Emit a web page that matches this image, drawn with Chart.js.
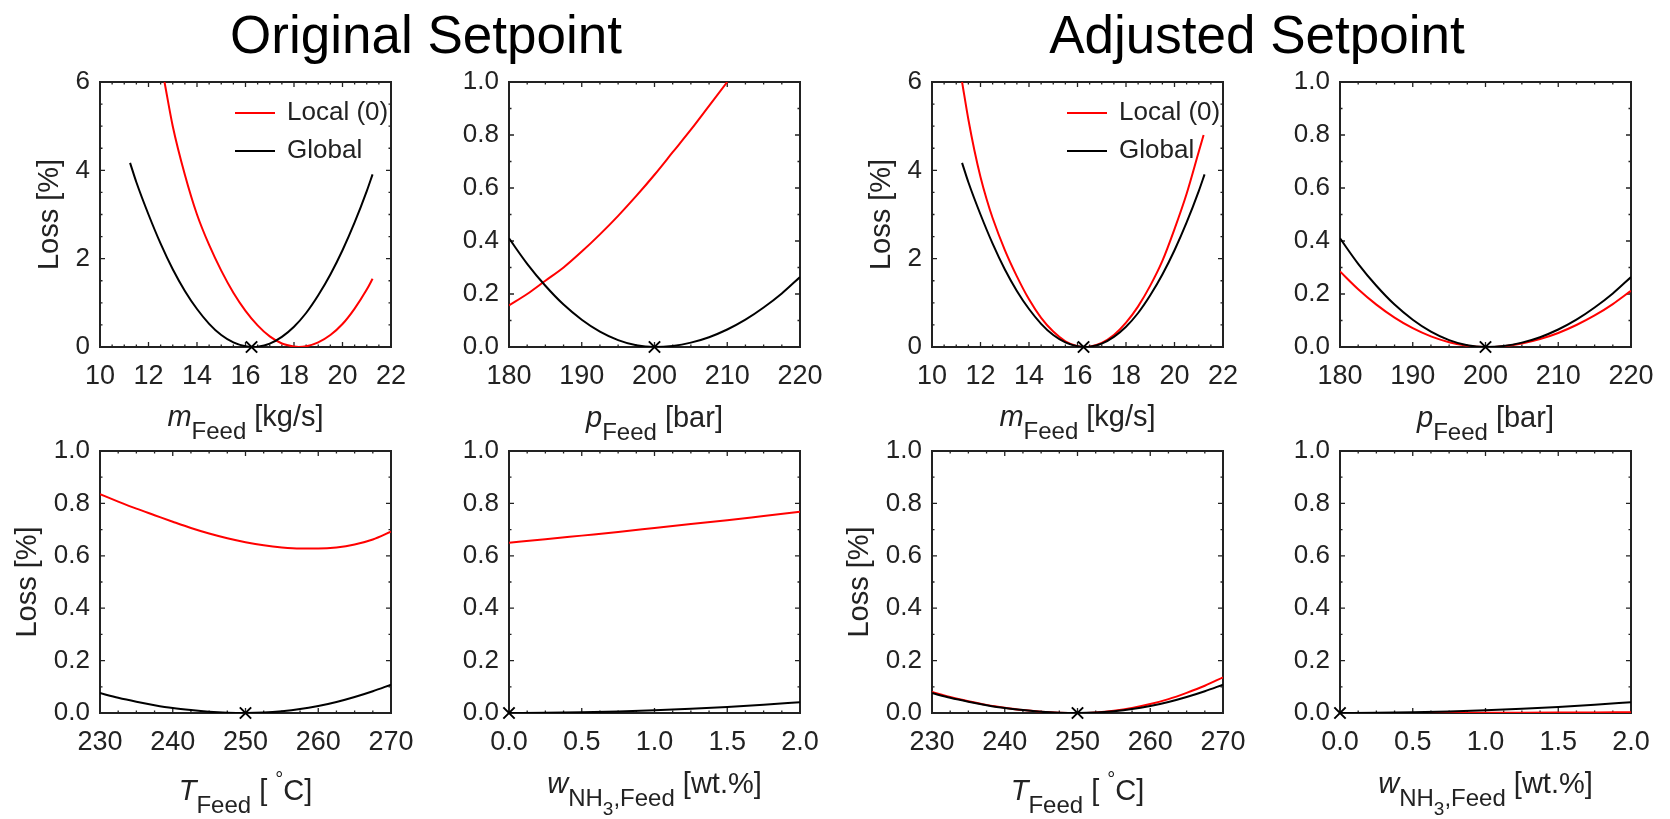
<!DOCTYPE html>
<html>
<head>
<meta charset="utf-8">
<script src="https://cdn.jsdelivr.net/npm/chart.js@4.4.1/dist/chart.umd.min.js"></script>
<style>
  body { margin: 0; width: 1670px; height: 819px; background: #fff; position: relative; overflow: hidden;
         font-family: "Liberation Sans", Arial, sans-serif; }
  .title { position: absolute; top: 8px; font-size: 53px; line-height: 53px; color: #000;
           white-space: nowrap; transform: translateX(-50%); }
  canvas { position: absolute; }
</style>
</head>
<body>
<div class="title" style="left:426px">Original Setpoint</div>
<div class="title" style="left:1257px">Adjusted Setpoint</div>
<script>
// ---- data ----
// feed mass flow [kg/s]
const mGlobalX = [11.24, 11.5, 12, 12.5, 13, 13.5, 14, 14.5, 15, 15.5, 16, 16.3, 16.5, 17, 17.5, 18, 18.5, 19, 19.5, 20, 20.5, 21, 21.24];
const mGlobalY = [4.17, 3.73, 3.0, 2.34, 1.76, 1.27, 0.86, 0.525, 0.27, 0.104, 0.015, 0, 0.006, 0.078, 0.23, 0.46, 0.77, 1.17, 1.64, 2.19, 2.82, 3.53, 3.91];
const mLocalOrigX = [12.66, 13, 13.5, 14, 14.5, 15, 15.5, 16, 16.5, 17, 17.5, 18, 18.2, 18.5, 19, 19.5, 20, 20.5, 21, 21.24];
const mLocalOrigY = [6.0, 5.0, 3.9, 3.0, 2.31, 1.73, 1.23, 0.82, 0.49, 0.24, 0.08, 0.01, 0, 0.015, 0.105, 0.27, 0.52, 0.87, 1.30, 1.545];
const mLocalAdjX = [11.24, 11.5, 11.75, 12, 12.25, 12.5, 13, 13.5, 14, 14.5, 15, 15.5, 16, 16.3, 16.5, 17, 17.5, 18, 18.5, 19, 19.5, 20, 20.5, 21, 21.2];
const mLocalAdjY = [6.0, 5.15, 4.45, 3.85, 3.35, 2.92, 2.2, 1.6, 1.08, 0.66, 0.35, 0.13, 0.018, 0, 0.008, 0.093, 0.27, 0.55, 0.92, 1.39, 1.95, 2.67, 3.47, 4.42, 4.8];

// feed pressure [bar]
const pX = [180, 182.5, 185, 187.5, 190, 192.5, 195, 197.5, 200, 202.5, 205, 207.5, 210, 212.5, 215, 217.5, 220];
const pGlobalY = [0.41, 0.314, 0.231, 0.16, 0.103, 0.058, 0.026, 0.0064, 0, 0.0041, 0.0165, 0.037, 0.066, 0.103, 0.149, 0.202, 0.264];
const pLocalOrigX = [180, 182.5, 185, 187.5, 190, 192.5, 195, 197.5, 200, 202.5, 205, 207.5, 210];
const pLocalOrigY = [0.157, 0.2, 0.25, 0.30, 0.36, 0.425, 0.495, 0.57, 0.65, 0.735, 0.82, 0.91, 1.0];
const pLocalAdjY = [0.285, 0.218, 0.16, 0.111, 0.071, 0.040, 0.018, 0.0045, 0, 0.0033, 0.0133, 0.030, 0.053, 0.083, 0.119, 0.162, 0.212];

// feed temperature [°C]
const tX = [230, 232.5, 235, 237.5, 240, 242.5, 245, 247.5, 250, 252.5, 255, 257.5, 260, 262.5, 265, 267.5, 270];
const tGlobalY = [0.076, 0.058, 0.043, 0.030, 0.019, 0.011, 0.0048, 0.0012, 0, 0.0017, 0.0068, 0.015, 0.027, 0.042, 0.061, 0.083, 0.108];
const tLocalOrigY = [0.835, 0.807, 0.78, 0.755, 0.73, 0.706, 0.685, 0.667, 0.652, 0.64, 0.632, 0.628, 0.628, 0.632, 0.643, 0.662, 0.692];
const tLocalAdjY = [0.08, 0.061, 0.045, 0.031, 0.02, 0.011, 0.005, 0.0013, 0, 0.0021, 0.0085, 0.019, 0.034, 0.053, 0.077, 0.104, 0.136];

// NH3 mass fraction in feed [wt.%]
const wX = [0, 0.25, 0.5, 0.75, 1.0, 1.25, 1.5, 1.75, 2.0];
const wGlobalY = [0, 0.0006, 0.0026, 0.0058, 0.0103, 0.016, 0.023, 0.0314, 0.041];
const wLocalOrigY = [0.65, 0.663, 0.677, 0.691, 0.706, 0.721, 0.736, 0.752, 0.768];
const wLocalAdjY = [0, 0.0001, 0.0002, 0.0005, 0.0008, 0.0012, 0.0017, 0.0023, 0.003];

// nominal operating points (marked with x)
const mOpt = 16.25, pOpt = 200, tOpt = 250, wOpt = 0;

const seriesLabels = ['Local (0)', 'Global'];

// ---- look ----
const FONT = '"Liberation Sans", Arial, sans-serif';
const INK = '#222';
const L = 100, T = 20, R = 30, B = 110, PW = 291;

const pts = (xs, ys) => xs.map((x, i) => ({ x: x, y: ys[i] }));

// MATLAB-like box: inward major/minor ticks on all sides
const boxPlugin = {
    id: 'box',
    beforeDatasetsDraw(chart, args, o) {
        const { ctx, chartArea: a, scales: { x, y } } = chart;
        ctx.save();
        ctx.strokeStyle = INK;
        ctx.lineWidth = 1.3;
        const isMajor = (v, step) => Math.abs(v / step - Math.round(v / step)) < 1e-6;
        ctx.beginPath();
        for (let v = x.min; v <= x.max + 1e-9; v += o.xMinor) {
            const px = x.getPixelForValue(v);
            const len = isMajor(v, o.xMajor) ? 5 : 2.5;
            ctx.moveTo(px, a.bottom); ctx.lineTo(px, a.bottom - len);
            ctx.moveTo(px, a.top); ctx.lineTo(px, a.top + len);
        }
        for (let v = y.min; v <= y.max + 1e-9; v += o.yMinor) {
            const py = y.getPixelForValue(v);
            const len = isMajor(v, o.yMajor) ? 5 : 2.5;
            ctx.moveTo(a.left, py); ctx.lineTo(a.left + len, py);
            ctx.moveTo(a.right, py); ctx.lineTo(a.right - len, py);
        }
        ctx.stroke();
        ctx.lineWidth = 2;
        ctx.strokeRect(a.left, a.top, a.right - a.left, a.bottom - a.top);
        ctx.restore();
    },
    afterDraw(chart, args, o) {
        const { ctx, chartArea: a } = chart;
        ctx.save();
        ctx.fillStyle = INK;
        // x title with sub/superscripts
        const sizes = { 0: 29, 1: 24, 2: 19, '-1': 20 };
        const shifts = { 0: 0, 1: 13, 2: 22, '-1': -14 };
        const fontOf = p => (p.i ? 'italic ' : '') + sizes[p.s || 0] + 'px ' + FONT;
        let total = 0;
        o.xTitle.forEach(p => { ctx.font = fontOf(p); total += ctx.measureText(p.t).width; });
        let cx = (a.left + a.right) / 2 - total / 2;
        const base = a.bottom + o.xTitleOff;
        ctx.textBaseline = 'alphabetic';
        ctx.textAlign = 'left';
        o.xTitle.forEach(p => {
            ctx.font = fontOf(p);
            ctx.fillText(p.t, cx, base + shifts[p.s || 0]);
            cx += ctx.measureText(p.t).width;
        });
        // y title
        if (o.yTitle) {
            ctx.save();
            ctx.translate(a.left - o.yTitleOff, (a.top + a.bottom) / 2);
            ctx.rotate(-Math.PI / 2);
            ctx.font = '29px ' + FONT;
            ctx.textAlign = 'center';
            ctx.textBaseline = 'middle';
            ctx.fillText(o.yTitle, 0, 0);
            ctx.restore();
        }
        // legend
        if (o.legend) {
            ctx.font = '26px ' + FONT;
            ctx.textBaseline = 'middle';
            ctx.textAlign = 'left';
            chart.data.datasets.filter(d => d.label).forEach((d, i) => {
                const ly = a.top + 31 + i * 38;
                ctx.strokeStyle = d.borderColor;
                ctx.lineWidth = 2;
                ctx.beginPath();
                ctx.moveTo(a.left + 135, ly); ctx.lineTo(a.left + 175, ly);
                ctx.stroke();
                ctx.fillStyle = INK;
                ctx.fillText(d.label, a.left + 187, ly);
            });
        }
        ctx.restore();
    }
};

const panels = [
    { left: 100, top: 82, h: 265, xr: [10, 22, 2, 0.5, 0], yr: [0, 6, 2, 0.5, 0], dec: 0,
      local: pts(mLocalOrigX, mLocalOrigY), global: pts(mGlobalX, mGlobalY), opt: mOpt,
      xTitle: [{ t: 'm', i: true }, { t: 'Feed', s: 1 }, { t: ' [kg/s]' }], xTitleOff: 79, yTitle: 'Loss [%]', yTitleOff: 50, legend: true },
    { left: 509, top: 82, h: 265, xr: [180, 220, 10, 2.5, 0], yr: [0, 1, 0.2, 0.1, 1],
      local: pts(pLocalOrigX, pLocalOrigY), global: pts(pX, pGlobalY), opt: pOpt,
      xTitle: [{ t: 'p', i: true }, { t: 'Feed', s: 1 }, { t: ' [bar]' }], xTitleOff: 80 },
    { left: 932, top: 82, h: 265, xr: [10, 22, 2, 0.5, 0], yr: [0, 6, 2, 0.5, 0],
      local: pts(mLocalAdjX, mLocalAdjY), global: pts(mGlobalX, mGlobalY), opt: mOpt,
      xTitle: [{ t: 'm', i: true }, { t: 'Feed', s: 1 }, { t: ' [kg/s]' }], xTitleOff: 79, yTitle: 'Loss [%]', yTitleOff: 50, legend: true },
    { left: 1340, top: 82, h: 265, xr: [180, 220, 10, 2.5, 0], yr: [0, 1, 0.2, 0.1, 1],
      local: pts(pX, pLocalAdjY), global: pts(pX, pGlobalY), opt: pOpt,
      xTitle: [{ t: 'p', i: true }, { t: 'Feed', s: 1 }, { t: ' [bar]' }], xTitleOff: 80 },
    { left: 100, top: 451, h: 262, xr: [230, 270, 10, 2.5, 0], yr: [0, 1, 0.2, 0.1, 1],
      local: pts(tX, tLocalOrigY), global: pts(tX, tGlobalY), opt: tOpt,
      xTitle: [{ t: 'T', i: true }, { t: 'Feed', s: 1 }, { t: ' [ ' }, { t: '°', s: -1 }, { t: 'C]' }], xTitleOff: 87, yTitle: 'Loss [%]', yTitleOff: 72 },
    { left: 509, top: 451, h: 262, xr: [0, 2, 0.5, 0.125, 1], yr: [0, 1, 0.2, 0.1, 1],
      local: pts(wX, wLocalOrigY), global: pts(wX, wGlobalY), opt: wOpt,
      xTitle: [{ t: 'w', i: true }, { t: 'NH', s: 1 }, { t: '3', s: 2 }, { t: ',Feed', s: 1 }, { t: ' [wt.%]' }], xTitleOff: 80 },
    { left: 932, top: 451, h: 262, xr: [230, 270, 10, 2.5, 0], yr: [0, 1, 0.2, 0.1, 1],
      local: pts(tX, tLocalAdjY), global: pts(tX, tGlobalY), opt: tOpt,
      xTitle: [{ t: 'T', i: true }, { t: 'Feed', s: 1 }, { t: ' [ ' }, { t: '°', s: -1 }, { t: 'C]' }], xTitleOff: 87, yTitle: 'Loss [%]', yTitleOff: 72 },
    { left: 1340, top: 451, h: 262, xr: [0, 2, 0.5, 0.125, 1], yr: [0, 1, 0.2, 0.1, 1],
      local: pts(wX, wLocalAdjY), global: pts(wX, wGlobalY), opt: wOpt,
      xTitle: [{ t: 'w', i: true }, { t: 'NH', s: 1 }, { t: '3', s: 2 }, { t: ',Feed', s: 1 }, { t: ' [wt.%]' }], xTitleOff: 80 }
];

panels.forEach(p => {
    const cv = document.createElement('canvas');
    cv.width = PW + L + R;
    cv.height = p.h + T + B;
    cv.style.left = (p.left - L) + 'px';
    cv.style.top = (p.top - T) + 'px';
    document.body.appendChild(cv);

    new Chart(cv.getContext('2d'), {
        type: 'line',
        plugins: [boxPlugin],
        data: {
            datasets: [
                { label: seriesLabels[0], data: p.local, borderColor: '#ff0000', borderWidth: 2,
                  pointRadius: 0, cubicInterpolationMode: 'monotone', order: 2 },
                { label: seriesLabels[1], data: p.global, borderColor: '#000000', borderWidth: 2,
                  pointRadius: 0, cubicInterpolationMode: 'monotone', order: 1 },
                { data: [{ x: p.opt, y: 0 }], showLine: false, pointStyle: 'crossRot', pointRadius: 8,
                  borderColor: '#000000', borderWidth: 2, clip: false, order: 0 }
            ]
        },
        options: {
            responsive: false,
            animation: false,
            devicePixelRatio: 1,
            events: [],
            layout: { padding: { top: T, right: R, left: 0, bottom: 0 } },
            plugins: {
                legend: { display: false },
                tooltip: { enabled: false },
                box: { xMajor: p.xr[2], xMinor: p.xr[3], yMajor: p.yr[2], yMinor: p.yr[3],
                       xTitle: p.xTitle, xTitleOff: p.xTitleOff, yTitle: p.yTitle, yTitleOff: p.yTitleOff, legend: p.legend }
            },
            scales: {
                x: {
                    type: 'linear', min: p.xr[0], max: p.xr[1],
                    grid: { display: false, drawTicks: false }, border: { display: false },
                    ticks: { stepSize: p.xr[2], autoSkip: false, maxRotation: 0, padding: 13, color: INK,
                             font: { family: FONT, size: 27 }, callback: v => v.toFixed(p.xr[4]) },
                    afterFit(s) { s.height = B; s.paddingLeft = 0; s.paddingRight = 0; }
                },
                y: {
                    type: 'linear', min: p.yr[0], max: p.yr[1],
                    grid: { display: false, drawTicks: false }, border: { display: false },
                    ticks: { stepSize: p.yr[2], autoSkip: false, padding: 10, color: INK,
                             font: { family: FONT, size: 26 }, callback: v => v.toFixed(p.yr[4]) },
                    afterFit(s) { s.width = L; s.paddingTop = 0; s.paddingBottom = 0; }
                }
            }
        }
    });
});
</script>
</body>
</html>
